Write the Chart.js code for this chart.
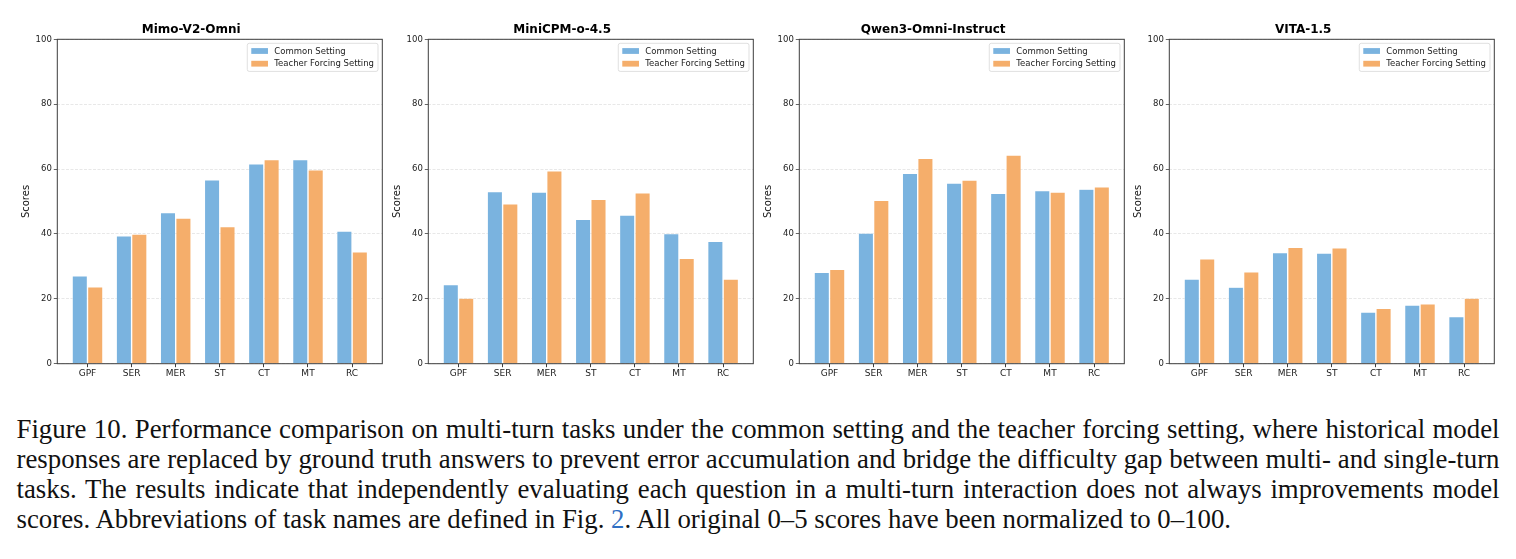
<!DOCTYPE html>
<html>
<head>
<meta charset="utf-8">
<script src="https://cdn.jsdelivr.net/npm/chart.js@4.4.1/dist/chart.umd.min.js"></script>
<style>
  body { margin: 0; background: #fff; width: 1516px; height: 559px; overflow: hidden; position: relative; }
  canvas { position: absolute; top: 0; }
  #caption { position: absolute; left: 16.5px; top: 414px; width: 1483px; font-family: "Liberation Serif", "Times New Roman", serif; font-size: 26.8px; line-height: 30px; color: #111; }
  #caption .j { text-align: justify; text-align-last: justify; white-space: nowrap; word-spacing: -1px; }
  #caption .ref { color: #2f6fc4; }
</style>
</head>
<body>
<canvas id="c0" width="390" height="390" style="left:0px;width:390px;height:390px"></canvas>
<canvas id="c1" width="390" height="390" style="left:371px;width:390px;height:390px"></canvas>
<canvas id="c2" width="390" height="390" style="left:741.7px;width:390px;height:390px"></canvas>
<canvas id="c3" width="390" height="390" style="left:1112px;width:390px;height:390px"></canvas>
<div id="caption">
  <div class="j">Figure 10. Performance comparison on multi-turn tasks under the common setting and the teacher forcing setting, where historical model</div>
  <div class="j">responses are replaced by ground truth answers to prevent error accumulation and bridge the difficulty gap between multi- and single-turn</div>
  <div class="j">tasks. The results indicate that independently evaluating each question in a multi-turn interaction does not always improvements model</div>
  <div>scores. Abbreviations of task names are defined in Fig. <span class="ref">2</span>. All original 0–5 scores have been normalized to 0–100.</div>
</div>
<script>
// task abbreviations on the x axis
const categories = ['GPF', 'SER', 'MER', 'ST', 'CT', 'MT', 'RC'];
const models = ['Mimo-V2-Omni', 'MiniCPM-o-4.5', 'Qwen3-Omni-Instruct', 'VITA-1.5'];
const seriesNames = ['Common Setting', 'Teacher Forcing Setting'];

// scores (0-100)
const mimoCommon = [27.1, 39.4, 46.6, 56.7, 61.6, 62.9, 40.9];
const mimoTeacher = [23.7, 40.0, 44.9, 42.3, 62.9, 59.8, 34.5];
const minicpmCommon = [24.4, 53.1, 52.9, 44.5, 45.8, 40.1, 37.7];
const minicpmTeacher = [20.2, 49.3, 59.5, 50.7, 52.7, 32.5, 26.1];
const qwenCommon = [28.2, 40.3, 58.7, 55.7, 52.5, 53.4, 53.8];
const qwenTeacher = [29.1, 50.4, 63.3, 56.6, 64.3, 52.9, 54.5];
const vitaCommon = [26.1, 23.6, 34.3, 34.1, 15.9, 18.1, 14.5];
const vitaTeacher = [32.3, 28.3, 35.9, 35.7, 17.1, 18.5, 20.2];

const yMin = 0, yMax = 100, yStep = 20;

const BLUE = 'rgb(122,179,223)';
const ORANGE = 'rgb(245,174,107)';
const SPINE = '#3d3d3d';
const FONT = "'DejaVu Sans', sans-serif";

// full box around the plot, like matplotlib spines
const framePlugin = {
  id: 'frame',
  afterDatasetsDraw(chart) {
    const { ctx, chartArea: a } = chart;
    ctx.save();
    ctx.strokeStyle = SPINE;
    ctx.lineWidth = 1;
    ctx.strokeRect(a.left, a.top, a.right - a.left, a.bottom - a.top);
    ctx.restore();
  }
};

// legend inside the upper right corner
const boxLegend = {
  id: 'boxLegend',
  afterDraw(chart) {
    const { ctx, chartArea: a } = chart;
    const sets = chart.data.datasets;
    ctx.save();
    ctx.font = '8.5px ' + FONT;
    const textW = Math.max(...sets.map(d => ctx.measureText(d.label).width));
    const patchW = 16.7, patchH = 5.8, rowH = 12.7;
    const w = 4 + patchW + 6.3 + textW + 4;
    const h = 15.4 + rowH * (sets.length - 1);
    const x0 = a.right - 4.3 - w, y0 = a.top + 4;
    ctx.fillStyle = 'rgba(255,255,255,0.8)';
    ctx.strokeStyle = 'rgba(204,204,204,0.8)';
    ctx.lineWidth = 0.8;
    ctx.beginPath();
    ctx.roundRect(x0, y0, w, h, 2);
    ctx.fill();
    ctx.stroke();
    sets.forEach((d, i) => {
      const cy = y0 + 7.7 + i * rowH;
      ctx.fillStyle = d.backgroundColor;
      ctx.fillRect(x0 + 4, cy - patchH / 2, patchW, patchH);
      ctx.fillStyle = '#222';
      ctx.textBaseline = 'middle';
      ctx.fillText(d.label, x0 + 4 + patchW + 6.3, cy + 0.5);
    });
    ctx.restore();
  }
};

function makeChart(id, title, common, teacher) {
  const toPoints = arr => arr.map((v, i) => ({ x: i, y: v }));
  return new Chart(document.getElementById(id), {
    type: 'bar',
    data: {
      datasets: [
        { label: seriesNames[0], data: toPoints(common), backgroundColor: BLUE },
        { label: seriesNames[1], data: toPoints(teacher), backgroundColor: ORANGE },
      ],
    },
    options: {
      responsive: false,
      animation: false,
      datasets: {
        bar: {
          categoryPercentage: 0.7,
          barPercentage: 1.0,
          borderColor: 'rgba(255,255,255,0.55)',
          borderWidth: 0.7,
        },
      },
      layout: { padding: { top: 22.35, right: 7.7, left: 0, bottom: 0 } },
      plugins: {
        legend: { display: false },
        tooltip: { enabled: false },
        title: {
          display: true,
          text: title,
          color: '#000',
          font: { family: FONT, size: 12, weight: 'bold' },
          padding: { top: 0, bottom: 2.55 },
        },
      },
      scales: {
        x: {
          type: 'linear',
          min: -0.685,
          max: 6.685,
          offset: false,
          border: { display: false },
          grid: { display: true, offset: false, drawOnChartArea: false, drawTicks: true, tickLength: 3.5, tickColor: SPINE },
          ticks: {
            stepSize: 1,
            includeBounds: false,
            autoSkip: false,
            maxRotation: 0,
            padding: 1.5,
            color: '#222',
            font: { family: FONT, size: 9 },
            callback: v => categories[v] ?? '',
          },
          afterFit: s => { s.height = 26.3; },
        },
        y: {
          min: yMin,
          max: yMax,
          border: { display: false, dash: [3, 1.5] },
          grid: { color: 'rgba(170,170,170,0.35)', lineWidth: 0.8, tickLength: 3.5, tickColor: SPINE, tickBorderDash: [] },
          ticks: {
            stepSize: yStep,
            padding: 2,
            color: '#222',
            font: { family: FONT, size: 8.5 },
          },
          title: {
            display: true,
            text: 'Scores',
            color: '#111',
            font: { family: FONT, size: 10 },
            padding: { top: 20.7, bottom: 0 },
          },
          afterFit: s => { s.width = 57.3; },
        },
      },
    },
    plugins: [framePlugin, boxLegend],
  });
}

makeChart('c0', models[0], mimoCommon, mimoTeacher);
makeChart('c1', models[1], minicpmCommon, minicpmTeacher);
makeChart('c2', models[2], qwenCommon, qwenTeacher);
makeChart('c3', models[3], vitaCommon, vitaTeacher);
</script>
</body>
</html>
